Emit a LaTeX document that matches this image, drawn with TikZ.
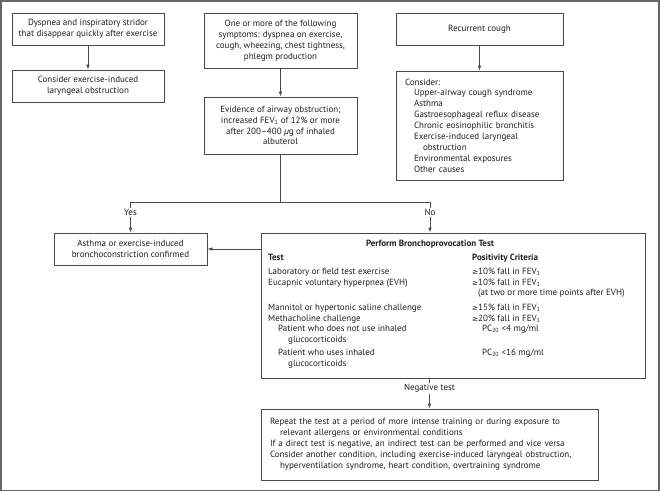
\documentclass[tikz,border=0pt]{standalone}
\usepackage{fontspec}
\setmainfont{PT Sans}
\newfontfamily\symfont{DejaVu Sans}[Scale=0.8]
\usetikzlibrary{arrows.meta}
\definecolor{ln}{HTML}{4a4a4a}
\definecolor{tx}{HTML}{1e1e1e}
\definecolor{fr}{HTML}{666666}
\newcommand{\gesym}{{\symfont ≥}}
\newcommand{\fev}{FEV\textsubscript{1}}
\begin{document}
\begin{tikzpicture}[x=1pt,y=-1pt,
  every node/.style={font=\fontsize{9}{10.9}\selectfont, text=tx},
  box/.style={draw=ln, line width=0.8pt, inner sep=0pt, align=center},
  lbox/.style={draw=ln, line width=0.8pt, inner ysep=0pt, inner xsep=9pt, align=left},
  conn/.style={draw=ln, line width=0.8pt},
  arr/.style={conn, -{Latex[length=5pt,width=3.6pt]}},
  lab/.style={fill=white, inner sep=1.5pt},
  row/.style={anchor=base west, inner sep=0pt},
  bld/.style={font=\fontsize{9}{10.9}\selectfont\bfseries},
]
\useasboundingbox (0,0) rectangle (660,492);
\draw[fr, line width=1.5pt] (1.2,1.2) rectangle (658.8,490.6);

% top row
\node[box, minimum width=152pt, minimum height=32pt] (dys) at (88,29)
  {Dyspnea and inspiratory stridor\\that disappear quickly after exercise};
\node[box, minimum width=152pt, minimum height=32pt] (lar) at (88,86)
  {Consider exercise-induced\\laryngeal obstruction};
\node[box, minimum width=153pt, minimum height=55pt] (sym) at (280.5,40.5)
  {One or more of the following\\symptoms: dyspnea on exercise,\\cough, wheezing, chest tightness,\\phlegm production};
\node[box, minimum width=153pt, minimum height=57pt] (ev) at (280.5,125.5)
  {Evidence of airway obstruction;\\increased \fev{} of 12\% or more\\after 200--400 \textit{µ}g of inhaled\\albuterol};
\node[box, minimum width=167pt, minimum height=32pt] (cough) at (479.5,29)
  {Recurrent cough};
\node[lbox, text width=149pt, minimum height=109pt] (cons) at (479.5,125.5)
  {Consider:\\
   \hspace*{9pt}Upper-airway cough syndrome\\
   \hspace*{9pt}Asthma\\
   \hspace*{9pt}Gastroesophageal reflux disease\\
   \hspace*{9pt}Chronic eosinophilic bronchitis\\
   \hspace*{9pt}Exercise-induced laryngeal\\
   \hspace*{18pt}obstruction\\
   \hspace*{9pt}Environmental exposures\\
   \hspace*{9pt}Other causes};

% middle
\node[box, minimum width=153pt, minimum height=32pt] (asthma) at (130.5,249)
  {Asthma or exercise-induced\\bronchoconstriction confirmed};
\node[box, minimum width=384pt, minimum height=145pt] (test) at (453,305.5) {};

\node[bld, anchor=base, inner sep=0pt] (ttl) at (430,246.5) {Perform Bronchoprovocation Test};
\node[bld, row] (hT) at (268,260.5) {Test};
\node[bld, row] (hP) at (472,260.5) {Positivity Criteria};
\node[row] (r1a) at (268,274.5) {Laboratory or field test exercise};
\node[row] (r1b) at (472,274.5) {\gesym10\% fall in \fev};
\node[row] (r2a) at (268,285) {Eucapnic voluntary hyperpnea (EVH)};
\node[row] (r2b) at (472,285) {\gesym10\% fall in \fev};
\node[row] (r2c) at (478,295.5) {(at two or more time points after EVH)};
\node[row] (r3a) at (268,310.5) {Mannitol or hypertonic saline challenge};
\node[row] (r3b) at (472,310.5) {\gesym15\% fall in \fev};
\node[row] (r4a) at (268,321) {Methacholine challenge};
\node[row] (r4b) at (472,321) {\gesym20\% fall in \fev};
\node[row] (r5a) at (278,331.5) {Patient who does not use inhaled};
\node[row] (r5b) at (482,331.5) {PC\textsubscript{20} <4 mg/ml};
\node[row] (r5c) at (288,342.5) {glucocorticoids};
\node[row] (r6a) at (278,355) {Patient who uses inhaled};
\node[row] (r6b) at (482,355) {PC\textsubscript{20} <16 mg/ml};
\node[row] (r6c) at (288,366) {glucocorticoids};

% bottom
\node[lbox, text width=319pt, minimum height=71pt] (final) at (429.5,444.5)
  {Repeat the test at a period of more intense training or during exposure to\\
   \hspace*{10pt}relevant allergens or environmental conditions\\
   If a direct test is negative, an indirect test can be performed and vice versa\\
   Consider another condition, including exercise-induced laryngeal obstruction,\\
   \hspace*{10pt}hyperventilation syndrome, heart condition, overtraining syndrome};

% connectors
\draw[arr] (dys.south) -- (lar.north);
\draw[arr] (sym.south) -- (ev.north);
\draw[arr] (cough.south) -- (cons.north);

\coordinate (split) at (ev.south |- 0,202);
\coordinate (yesc) at (asthma.north |- split);
\coordinate (noc) at (430,202);
\draw[conn] (ev.south) -- (split);
\draw[conn] (yesc) -- (noc);
\draw[arr] (yesc) -- node[lab, pos=0.35] (yes) {Yes} (asthma.north);
\draw[arr] (noc) -- node[lab, pos=0.35] (no) {No} (noc |- test.north);
\draw[arr] (test.west |- asthma.east) -- (asthma.east);
\draw[arr] (final.north |- test.south) -- node[lab, pos=0.33] (neg) {Negative test} (final.north);
\end{tikzpicture}
\end{document}
